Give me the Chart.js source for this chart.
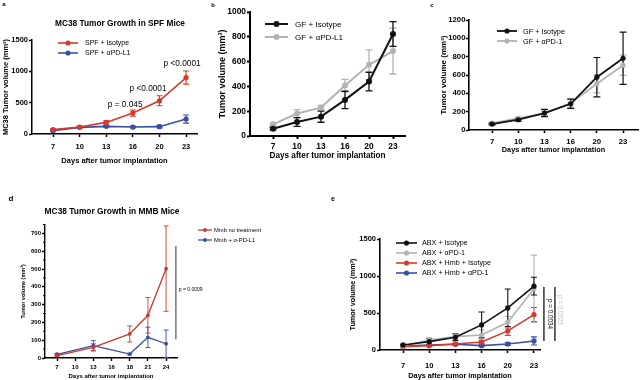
<!DOCTYPE html>
<html><head><meta charset="utf-8">
<script src="https://cdn.jsdelivr.net/npm/chart.js@4.4.1/dist/chart.umd.min.js"></script>
<style>
html,body{margin:0;padding:0;background:#fff;width:640px;height:380px;overflow:hidden}
.w{position:absolute;left:0;top:0;width:640px;height:380px}
canvas{position:absolute;left:0;top:0}
</style></head><body>
<div class="w"><canvas id="ca" width="640" height="380"></canvas></div>
<div class="w"><canvas id="cb" width="640" height="380"></canvas></div>
<div class="w"><canvas id="cc" width="640" height="380"></canvas></div>
<div class="w"><canvas id="cd" width="640" height="380"></canvas></div>
<div class="w"><canvas id="ce" width="640" height="380"></canvas></div>
<script>
// ---------- DATA ----------
const daysA = ['7','10','13','16','20','23'];
const daysD = ['7','10','13','16','18','21','24'];

// panel a
const aIsoMean = [70,111,185,334,530,901];
const aIsoErr  = [12,15,25,50,80,105];
const aPdMean  = [53,106,122,111,117,239];
const aPdErr   = [10,12,15,15,20,65];
const aTicksY  = [0,500,1000,1500];

// panel b
const bIsoMean = [59,113,156,291,439,822];
const bIsoErr  = [10,35,45,70,75,100];
const bPdMean  = [94,181,229,407,574,685];
const bPdErr   = [10,32,18,50,120,185];
const bTicksY  = [0,200,400,600,800,1000];

// panel c
const cIsoMean = [65,112,185,286,576,783];
const cIsoErr  = [10,15,40,50,215,285];
const cPdMean  = [76,127,181,293,504,707];
const cPdErr   = [10,15,25,45,100,110];
const cTicksY  = [0,200,400,600,800,1000,1200];

// panel d (null = not measured)
const dNoMean = [13,null,60,null,135,240,502];
const dNoErr  = [5,null,20,null,45,100,240];
const dPdMean = [21,null,69,null,22,116,80];
const dPdErr  = [5,null,28,null,5,57,77];
const dTicksY = [0,100,200,300,400,500,600,700];
const dMinorY = [50,150,250,350,450,550,650,750];

// panel e
const eIsoMean    = [68,113,172,339,569,863];
const eIsoErr     = [10,40,45,175,255,120];
const ePdMean     = [54,135,181,203,375,827];
const ePdErr      = [10,30,40,70,80,455];
const eHmbIsoMean = [45,59,81,108,258,479];
const eHmbIsoErr  = [8,10,12,20,60,95];
const eHmbPdMean  = [54,68,77,59,81,122];
const eHmbPdErr   = [8,10,10,15,20,55];
const eTicksY     = [0,500,1000,1500];

// ---------- RENDERING ----------
const LS = "'Liberation Sans', Arial, sans-serif";
const RED='#d43a2e', BLUE='#3b4fa0', GRAY='#b3b3b3', BLACK='#111111';

function deco(P){
  return {
    id:'deco_'+P.id,
    beforeDatasetsDraw(chart){
      const ctx=chart.ctx, ys=chart.scales.y;
      ctx.save();
      for(let i=chart.data.datasets.length-1;i>=0;i--){
        const ds=chart.data.datasets[i], meta=chart.getDatasetMeta(i);
        ctx.strokeStyle=ds.borderColor; ctx.lineWidth=P.errWidth;
        meta.data.forEach((pt,j)=>{
          const r=ds.data[j]; if(r.e==null) return;
          const t=ys.getPixelForValue(r.y+r.e), b=ys.getPixelForValue(Math.max(0,r.y-r.e));
          ctx.beginPath();
          ctx.moveTo(pt.x,t); ctx.lineTo(pt.x,b);
          ctx.moveTo(pt.x-P.cap,t); ctx.lineTo(pt.x+P.cap,t);
          ctx.moveTo(pt.x-P.cap,b); ctx.lineTo(pt.x+P.cap,b);
          ctx.stroke();
        });
      }
      ctx.restore();
    },
    afterDraw(chart){
      const ctx=chart.ctx, A=chart.chartArea, xs=chart.scales.x, ys=chart.scales.y;
      ctx.save();
      ctx.textAlign='center'; ctx.textBaseline='middle'; ctx.fillStyle='#000';
      if(P.panel){ ctx.font=`bold ${P.panel.size}px ${LS}`; ctx.fillText(P.panel.text,P.panel.x,P.panel.y); }
      if(P.title){ ctx.font=`bold ${P.title.size}px ${LS}`; ctx.fillText(P.title.text,(A.left+A.right)/2+P.title.dx,A.top+P.title.dy); }
      if(P.minor){
        ctx.strokeStyle='#000'; ctx.lineWidth=1;
        P.minor.vals.forEach(v=>{ const y=ys.getPixelForValue(v); ctx.beginPath(); ctx.moveTo(A.left,y); ctx.lineTo(A.left-P.minor.len,y); ctx.stroke(); });
      }
      const L=P.legend;
      chart.data.datasets.forEach((ds,i)=>{
        const y=A.top+L.dy+i*L.row, x0=A.left+L.dx;
        ctx.strokeStyle=ds.borderColor; ctx.lineWidth=ds.borderWidth;
        ctx.beginPath(); ctx.moveTo(x0,y); ctx.lineTo(x0+L.len,y); ctx.stroke();
        ctx.fillStyle=ds.borderColor; ctx.beginPath(); ctx.arc(x0+L.len/2,y,ds.pointRadius,0,Math.PI*2); ctx.fill();
        ctx.fillStyle='#000'; ctx.textAlign='left'; ctx.font=`${L.size}px ${LS}`;
        ctx.fillText(ds.label,A.left+L.tx,y+0.5);
      });
      (P.vlines||[]).forEach(l=>{
        const x=xs.getPixelForValue(l.x);
        ctx.strokeStyle=l.color; ctx.lineWidth=l.w;
        ctx.beginPath(); ctx.moveTo(x,ys.getPixelForValue(l.y1)); ctx.lineTo(x,ys.getPixelForValue(l.y2)); ctx.stroke();
      });
      (P.notes||[]).forEach(n=>{
        const x=xs.getPixelForValue(n.x), y=ys.getPixelForValue(n.y);
        ctx.save(); ctx.translate(x,y); if(n.rot) ctx.rotate(n.rot);
        ctx.fillStyle=n.color||'#000'; ctx.font=`${n.size}px ${LS}`;
        ctx.textAlign=n.align||'center'; ctx.textBaseline='middle';
        ctx.fillText(n.text,0,0); ctx.restore();
      });
      ctx.restore();
    }
  };
}

function makePanel(P){
  const lhY=P.yTitleSize*1.2, lhX=P.xTitleSize*1.2;
  const yW=P.area.left-(P.yTitleCx-lhY/2);
  const xH=(P.xTitleCy+lhX/2)-P.area.bottom;
  const datasets=P.series.map(s=>({
    label:s.label,
    data:s.mean.map((v,i)=>v==null?null:{x:i,y:v,e:s.err[i]}).filter(Boolean),
    borderColor:s.color, backgroundColor:s.color,
    borderWidth:P.lineWidth, pointRadius:P.pointRadius, pointHoverRadius:P.pointRadius,
    pointBorderWidth:0, tension:0, fill:false, clip:false
  }));
  const tickFont={family:LS,weight:'bold',size:P.tickSize};
  new Chart(document.getElementById(P.id),{
    type:'line',
    data:{datasets},
    options:{
      responsive:false, animation:false, events:[],
      layout:{autoPadding:false,padding:{left:P.area.left-yW,top:P.area.top,right:640-P.area.right,bottom:380-P.area.bottom-xH}},
      plugins:{legend:{display:false},title:{display:false},tooltip:{enabled:false}},
      scales:{
        x:{type:'linear',min:P.xMin,max:P.xMax,
          afterBuildTicks:s=>{s.ticks=P.labels.map((_,i)=>({value:i}));},
          afterFit:s=>{s.height=xH;},
          ticks:{callback:v=>P.labels[v],autoSkip:false,maxRotation:0,minRotation:0,padding:P.xTickPad,color:'#000',font:tickFont},
          grid:{display:true,drawOnChartArea:false,drawTicks:true,tickLength:P.tickLen,tickColor:'#000',tickWidth:P.axisWidth},
          border:{display:true,color:'#000',width:P.axisWidth},
          title:{display:true,text:'Days after tumor implantation',color:'#000',padding:0,font:{family:LS,weight:'bold',size:P.xTitleSize}}
        },
        y:{type:'linear',min:0,max:P.yMax,
          afterBuildTicks:s=>{s.ticks=P.yTicks.map(v=>({value:v}));},
          afterFit:s=>{s.width=yW;},
          ticks:{callback:v=>String(v),padding:P.yTickPad,color:'#000',font:tickFont},
          grid:{display:true,drawOnChartArea:false,drawTicks:true,tickLength:P.tickLen,tickColor:'#000',tickWidth:P.axisWidth},
          border:{display:true,color:'#000',width:P.axisWidth},
          title:{display:true,text:P.yTitle,color:'#000',padding:0,font:{family:LS,weight:'bold',size:P.yTitleSize}}
        }
      }
    },
    plugins:[deco(P)]
  });
}

// panel a
makePanel({id:'ca', area:{left:32,top:40,right:197,bottom:134}, labels:daysA, xMin:-0.79, xMax:5.41,
  yMax:1500, yTicks:aTicksY, yTitle:'MC38 Tumor volume (mm³)', yTitleSize:7.5, yTitleCx:6, xTitleSize:7.5, xTitleCy:161,
  tickSize:7.5, tickLen:3, xTickPad:5, yTickPad:1, axisWidth:1.5, lineWidth:1.6, pointRadius:2.6, errWidth:1.1, cap:3,
  series:[{label:'SPF + Isotype',mean:aIsoMean,err:aIsoErr,color:RED},{label:'SPF + αPD-L1',mean:aPdMean,err:aPdErr,color:BLUE}],
  panel:{text:'a',x:4,y:4,size:6}, title:{text:'MC38 Tumor Growth in SPF Mice',size:8.3,dx:5.5,dy:-16},
  legend:{dx:26,dy:3,row:10,len:20,tx:53,size:7},
  notes:[{text:'p = 0.045',x:2.71,y:463,size:8.3},{text:'p <0.0001',x:3.57,y:718,size:8.3},{text:'p <0.0001',x:4.85,y:1117,size:8.3}]
});

// panel b
makePanel({id:'cb', area:{left:250,top:12,right:405,bottom:136}, labels:daysA, xMin:-0.96, xMax:5.5,
  yMax:1000, yTicks:bTicksY, yTitle:'Tumor volume (mm³)', yTitleSize:9, yTitleCx:223, xTitleSize:8.2, xTitleCy:156,
  tickSize:8.4, tickLen:3, xTickPad:2.5, yTickPad:1, axisWidth:2, lineWidth:2, pointRadius:3, errWidth:1.3, cap:3.5,
  series:[{label:'GF + Isotype',mean:bIsoMean,err:bIsoErr,color:BLACK},{label:'GF + αPD-L1',mean:bPdMean,err:bPdErr,color:GRAY}],
  panel:{text:'b',x:213,y:5,size:6}, legend:{dx:15,dy:12,row:13,len:23,tx:45,size:8.1}
});

// panel c
makePanel({id:'cc', area:{left:469,top:20,right:638,bottom:130}, labels:daysA, xMin:-0.88, xMax:5.57,
  yMax:1200, yTicks:cTicksY, yTitle:'Tumor volume (mm³)', yTitleSize:8, yTitleCx:444, xTitleSize:7.3, xTitleCy:150,
  tickSize:7.8, tickLen:3, xTickPad:4, yTickPad:0.5, axisWidth:1.6, lineWidth:1.8, pointRadius:2.6, errWidth:1.2, cap:3.5,
  series:[{label:'GF + Isotype',mean:cIsoMean,err:cIsoErr,color:BLACK},{label:'GF + αPD-1',mean:cPdMean,err:cPdErr,color:GRAY}],
  panel:{text:'c',x:432,y:5,size:6}, legend:{dx:28,dy:11,row:10,len:20,tx:54,size:7.3}
});

// panel d
makePanel({id:'cd', area:{left:45,top:224.5,right:177,bottom:358}, labels:daysD, xMin:-0.66, xMax:6.6,
  yMax:750, yTicks:dTicksY, yTitle:'Tumor volume (mm³)', yTitleSize:5.5, yTitleCx:23, xTitleSize:6, xTitleCy:376,
  tickSize:6, tickLen:3, xTickPad:2.4, yTickPad:1, axisWidth:1.4, lineWidth:1.3, pointRadius:1.9, errWidth:0.9, cap:2.5,
  series:[{label:'Mmb no treatment',mean:dNoMean,err:dNoErr,color:'#c63a30'},{label:'Mmb + α-PD-L1',mean:dPdMean,err:dPdErr,color:'#3a4f9c'}],
  panel:{text:'d',x:11,y:199,size:8}, title:{text:'MC38 Tumor Growth in MMB Mice',size:8.4,dx:1,dy:-12.5},
  minor:{vals:dMinorY,len:2},
  legend:{dx:153,dy:5.5,row:10,len:14,tx:169,size:5.8},
  vlines:[{x:6.54,y1:630,y2:105,color:'#333',w:1}],
  notes:[{text:'p = 0.0009',x:6.70,y:382,size:5,align:'left'}]
});

// panel e
makePanel({id:'ce', area:{left:380,top:239,right:540,bottom:350}, labels:daysA, xMin:-0.88, xMax:5.23,
  yMax:1500, yTicks:eTicksY, yTitle:'Tumor volume (mm³)', yTitleSize:7.3, yTitleCx:353, xTitleSize:7.3, xTitleCy:375.5,
  tickSize:7.5, tickLen:3, xTickPad:8, yTickPad:1, axisWidth:1.6, lineWidth:1.6, pointRadius:2.6, errWidth:1.1, cap:3,
  series:[{label:'ABX + Isotype',mean:eIsoMean,err:eIsoErr,color:BLACK},{label:'ABX + αPD-1',mean:ePdMean,err:ePdErr,color:GRAY},
          {label:'ABX + Hmb + Isotype',mean:eHmbIsoMean,err:eHmbIsoErr,color:RED},{label:'ABX + Hmb + αPD-1',mean:eHmbPdMean,err:eHmbPdErr,color:BLUE}],
  panel:{text:'e',x:333,y:199,size:7}, legend:{dx:16,dy:4,row:10,len:21,tx:42,size:7.2},
  vlines:[{x:5.38,y1:850,y2:121,color:'#111',w:1.3},{x:5.80,y1:850,y2:121,color:'#111',w:1.3}],
  notes:[{text:'p = 0.0034',x:5.61,y:486,size:6.3,rot:Math.PI/2},{text:'p = 0.0025',x:5.99,y:540,size:6.3,rot:Math.PI/2,color:'#c0c0c0'}]
});
</script>
</body></html>
